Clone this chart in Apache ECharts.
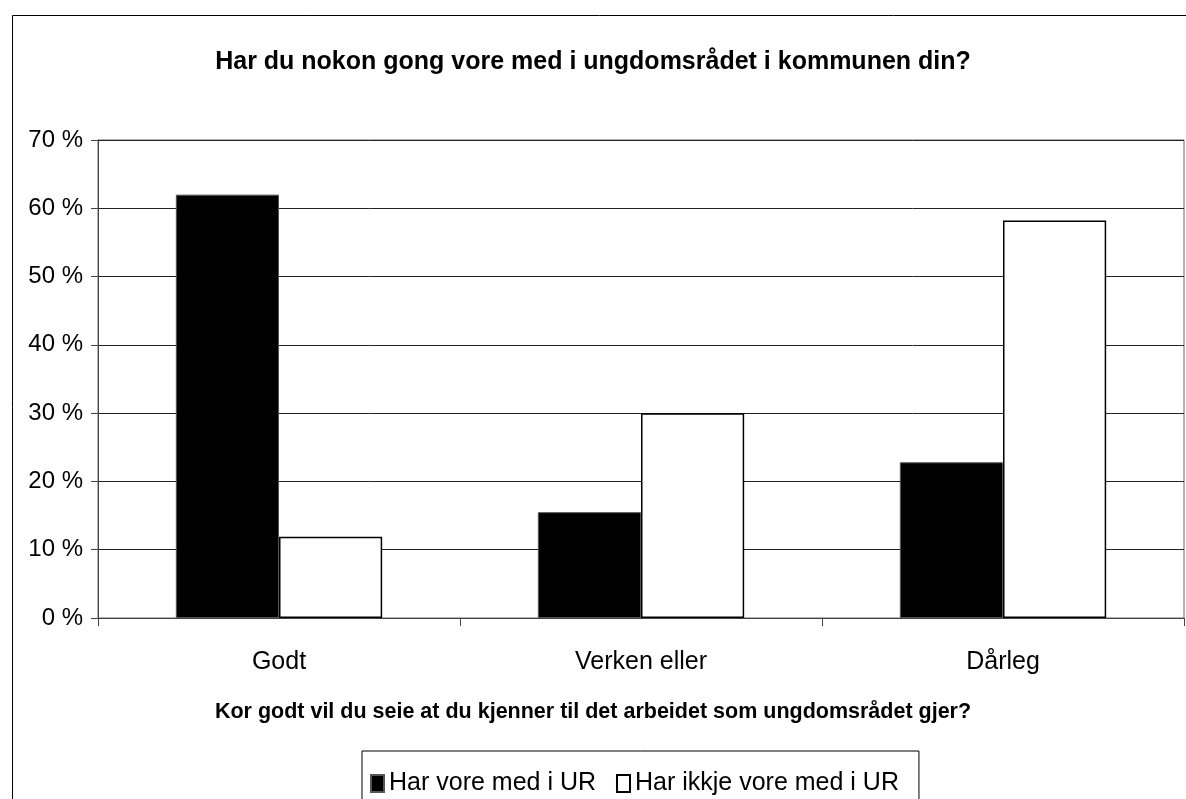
<!DOCTYPE html>
<html>
<head>
<meta charset="utf-8">
<script src="https://cdn.jsdelivr.net/npm/echarts@6/dist/echarts.min.js"></script>
<style>
html,body{margin:0;padding:0;background:#fff;}
#chart{width:1186px;height:799px;}
</style>
</head>
<body>
<div id="chart"></div>
<script>
const titleText = 'Har du nokon gong vore med i ungdomsrådet i kommunen din?';
const xAxisTitle = 'Kor godt vil du seie at du kjenner til det arbeidet som ungdomsrådet gjer?';
const categories = ['Godt', 'Verken eller', 'Dårleg'];
const seriesNames = ['Har vore med i UR', 'Har ikkje vore med i UR'];
const harVore = [62.0, 15.5, 22.8];
const harIkkje = [11.9, 30.0, 58.2];
const yTicks = [0, 10, 20, 30, 40, 50, 60, 70];

const FONT = '"Liberation Sans", Arial, sans-serif';
const chart = echarts.init(document.getElementById('chart'), null, {renderer: 'canvas'});
chart.setOption({
  backgroundColor: '#fff',
  animation: false,
  graphic: [{
    type: 'rect', left: 10, top: 13, silent: true,
    shape: {x: 0, y: 0, width: 1200, height: 820},
    style: {fill: 'none', stroke: '#000', lineWidth: 1}
  }],
  title: [{
    text: titleText, left: 'center', top: 45,
    textStyle: {fontFamily: FONT, fontWeight: 'bold', fontSize: 25, color: '#000'}
  }, {
    text: xAxisTitle, left: 'center', top: 696,
    textStyle: {fontFamily: FONT, fontWeight: 'bold', fontSize: 21.5, color: '#000'}
  }],
  legend: {
    data: seriesNames, top: 751, left: 362,
    itemWidth: 13, itemHeight: 17, itemGap: 20,
    padding: [20, 20, 20, 8],
    borderColor: '#000', borderWidth: 1,
    icon: 'rect',
    textStyle: {fontFamily: FONT, fontSize: 25, color: '#000'}
  },
  grid: {left: 98, top: 140, width: 1086, height: 478, show: true, borderColor: '#666', borderWidth: 1, containLabel: false},
  xAxis: {
    type: 'category', data: categories,
    axisLine: {lineStyle: {color: '#444', width: 1}},
    axisTick: {show: true, length: 8, lineStyle: {color: '#444'}},
    axisLabel: {fontFamily: FONT, fontSize: 25, color: '#000', margin: 32}
  },
  yAxis: {
    type: 'value', min: 0, max: 70, interval: 10,
    axisLine: {show: true, lineStyle: {color: '#444', width: 1}},
    axisTick: {show: true, length: 7, lineStyle: {color: '#444'}},
    splitLine: {show: true, lineStyle: {color: '#222', width: 1}},
    axisLabel: {fontFamily: FONT, fontSize: 24, color: '#000', margin: 15,
      formatter: v => yTicks.includes(v) ? v + ' %' : ''}
  },
  series: [{
    name: seriesNames[0], type: 'bar', data: harVore,
    barGap: '0%', barCategoryGap: '43%',
    itemStyle: {color: '#000', borderColor: '#555', borderWidth: 1}
  }, {
    name: seriesNames[1], type: 'bar', data: harIkkje,
    itemStyle: {color: '#fff', borderColor: '#000', borderWidth: 1.5}
  }]
});
</script>
</body>
</html>
